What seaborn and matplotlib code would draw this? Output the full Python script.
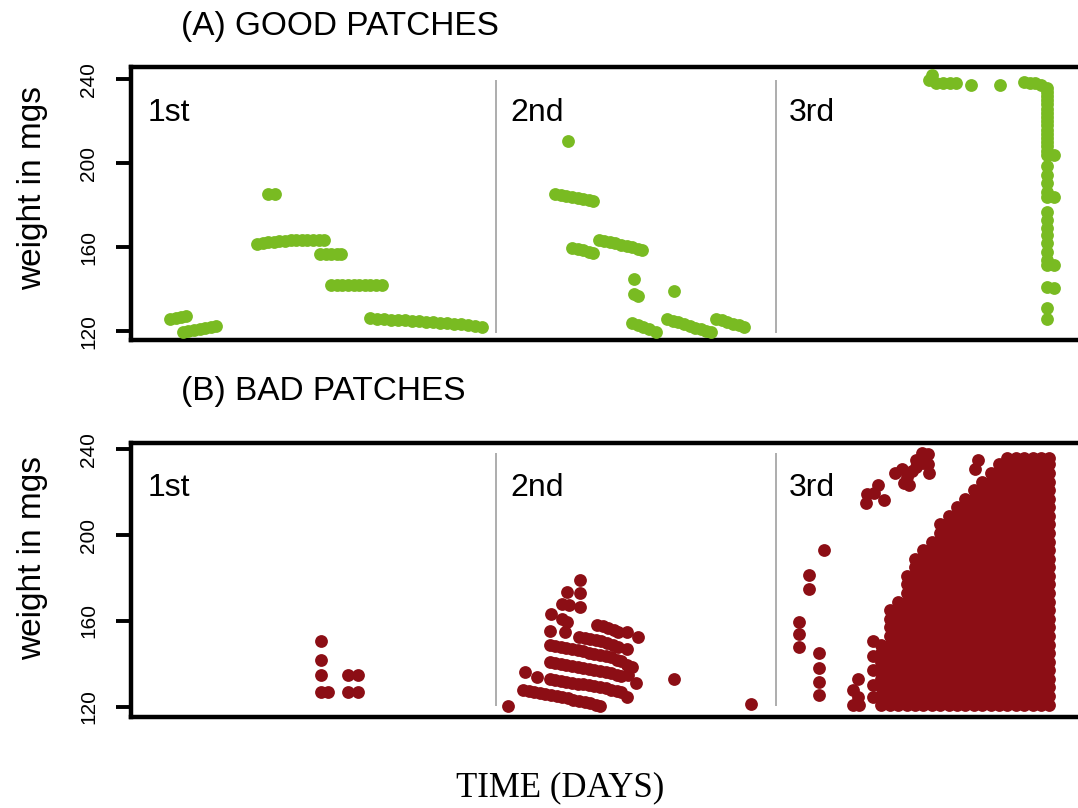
import matplotlib
matplotlib.use("Agg")
import pandas as pd
import matplotlib.pyplot as plt
import seaborn as sns

# ---- data (day, weight in mg) ----
section_names = ["1st", "2nd", "3rd"]
section_dividers = [130.5, 230.5]
weight_ticks = [120, 160, 200, 240]

good_1st = [
    (14, 126), (16, 126.5), (18, 127), (19.5, 127.5),
    (18.5, 119.5), (20.5, 120), (22.5, 120.5), (24.5, 121), (26.5, 121.5), (28.5, 122), (30.5, 122.5),
    (49, 185.5), (51.5, 185.5),
    (45, 161.5), (47, 162), (49, 162.5), (51, 162.5), (53, 163), (55, 163), (57, 163.5), (59, 163.5),
    (61, 163.5), (63, 163.5), (65, 163.5), (67, 163.5), (69, 163.5),
    (67.5, 157), (69.5, 157), (71.5, 157), (73.5, 157), (75, 157),
    (71.5, 142), (73.5, 142), (75.5, 142), (77.5, 142), (79.5, 142), (81.5, 142), (83.5, 142),
    (85.5, 142), (87.5, 142), (89.5, 142),
    (85.5, 126.5), (88, 126), (90.5, 126), (93, 125.5), (95.5, 125.5), (98, 125.5), (100.5, 125),
    (103, 125), (105.5, 124.5), (108, 124.5), (110.5, 124), (113, 124), (115.5, 123.5), (118, 123.5),
    (120.5, 123), (123, 122.5), (125.5, 122),
]
good_2nd = [
    (156, 210.5),
    (151.5, 185.5), (153.5, 185), (155.5, 184.5), (157.5, 184), (159.5, 183.5), (161.5, 183),
    (163.5, 182.5), (165, 182),
    (157.5, 159.5), (159.5, 159), (161.5, 158.5), (163.5, 158), (165, 157.5),
    (167, 163.5), (169, 163), (171, 162.5), (173, 162), (175, 161), (177, 160.5), (179, 160),
    (181, 159), (182.5, 158.5),
    (179.5, 145), (179.5, 138), (181, 137),
    (179, 124), (181, 123), (183, 122), (185, 121), (187.5, 119.5),
    (194, 139),
    (191.5, 126), (193.5, 125), (195.5, 124.5), (197.5, 123.5), (199.5, 122.5), (201.5, 121.5),
    (203.5, 121), (205.5, 120), (207, 119.5),
    (209, 126), (211, 125.5), (213, 124.5), (215, 123.5), (217, 123), (219, 122),
]
good_3rd = [
    (285, 239.5), (286, 242), (287.5, 238), (290, 238), (292.5, 238), (294.5, 238),
    (300, 237.5), (310.5, 237.5),
    (319, 238.5), (321, 238), (323, 238), (325, 237.5),
    (327, 236), (327, 234), (327, 232), (327, 230), (327, 228), (327, 226), (327, 224), (327, 222),
    (327, 220), (327, 218), (327, 216), (327, 214), (327, 212), (327, 210), (327, 208), (327, 206),
    (327, 204), (329.5, 204),
    (327, 198.5), (327, 194.5), (327, 190.5), (327, 186.5), (327, 184), (329.5, 184),
    (327, 177), (327, 173), (327, 169), (327, 166), (327, 162), (327, 158), (327, 154), (327, 151.5),
    (329.5, 151.5),
    (327, 141), (329.5, 140.5),
    (327, 131), (327, 126),
]

bad_1st = [(68, 150.5), (68, 142), (68, 135), (68, 127), (70.5, 127),
           (77.5, 135), (77.5, 127), (81, 135), (81, 127)]
bad_2nd = [
    (134.8, 120.5), (194, 133), (221.3, 121.3),
    (160.4, 179), (155.8, 173.5), (160.4, 173), (153.8, 168), (156.5, 167.5), (160.4, 166.5),
    (150, 163), (153.8, 161), (155.8, 159.5),
    (149.6, 155.5), (155, 155),
    (166.5, 158), (168.5, 157.5), (170.5, 156.5), (172.5, 156), (174, 155), (177, 155), (181, 152.5),
    (160, 152.5), (162, 152), (164, 151.5), (166, 151), (168, 150.5), (170, 149.5), (172, 149),
    (174, 148), (177, 147),
    (149.5, 149), (151.5, 148.5), (153.5, 148), (155.5, 147.5), (157.5, 147), (159.5, 146.5),
    (161.5, 146), (163.5, 145), (165.5, 144.5), (167.5, 144), (169.5, 143.5), (171.5, 143),
    (173.5, 142), (175, 141.5), (177, 139.5), (179, 138.5),
    (149.5, 141), (151.5, 140.5), (153.5, 140), (155.5, 139.5), (157.5, 139), (159.5, 138.5),
    (161.5, 138), (163.5, 137.5), (165.5, 137), (167.5, 136.5), (169.5, 136), (171.5, 135.5),
    (173.5, 135), (175, 134.5), (177.5, 135), (180.5, 131),
    (149.5, 133), (151.5, 132.5), (153.5, 132), (155.5, 131.5), (157.5, 131), (159.5, 130.5),
    (161.5, 130.5), (163.5, 130), (165.5, 129.5), (167.5, 129), (169.5, 128.5), (171.5, 128),
    (173.5, 127.5), (175, 127), (177, 124.5),
    (140.7, 136), (145, 134),
    (140, 128), (142, 127.5), (144, 127), (146, 126.5), (148, 126), (150, 125.5), (152, 125),
    (154, 124.5), (156, 124), (158, 123), (160, 122.5), (162, 122), (164, 121.5), (166, 121),
    (167.5, 120.5),
]
bad_3rd = [
    (247.6, 193), (242.3, 181.5), (242.3, 175), (238.4, 159.5), (238.4, 154), (238.4, 148),
    (245.8, 145), (245.8, 138), (245.8, 131.5), (245.8, 125.5),
    (259.5, 133), (257.7, 128), (259.5, 124.5), (257.7, 121), (260.1, 121),
    (262.5, 215), (263, 219), (265.5, 219.5), (266.7, 223.5), (269, 216.5),
    (273, 229), (275.5, 231), (276, 224.5), (277, 227), (278, 223.5), (279, 230), (280.5, 232),
    (280.5, 235), (282.5, 238.5), (283, 233.5), (284.5, 238), (285, 229), (284.5, 233),
    (302.6, 235), (301.4, 231),
    (265, 150.5), (265, 143.5), (265, 137), (265, 130), (265, 124.5),
]
# the dense block in the 3rd bad patch: columns of points, with the highest weight seen in each
blob_days = [268, 271, 274, 277, 280, 283, 286, 289, 292, 295, 298, 301, 304, 307, 310,
             313, 316, 319, 322, 325, 328]
blob_tops = [149, 165, 169, 181, 189, 193, 197, 205, 209, 213, 217, 221, 225, 229, 233,
             236, 236, 236, 236, 236, 236]
blob_levels = [121, 125, 129, 133, 137, 141, 145, 149, 153, 157, 161, 165, 169, 173, 177,
               181, 185, 189, 193, 197, 201, 205, 209, 213, 217, 221, 225, 229, 233, 236]

GREEN = "#79bb22"
RED = "#8c0e15"

blob = [(d, w) for d, top in zip(blob_days, blob_tops) for w in blob_levels if w <= top]
good = pd.DataFrame(good_1st + good_2nd + good_3rd, columns=["day", "weight"])
bad = pd.DataFrame(bad_1st + bad_2nd + bad_3rd + blob, columns=["day", "weight"])

sns.set_style("white")
plt.rcParams["font.family"] = ["Liberation Sans", "DejaVu Sans"]
plt.rcParams.update({
    "text.color": "black", "axes.labelcolor": "black",
    "xtick.color": "black", "ytick.color": "black",
    "ytick.labelsize": 15, "ytick.left": True, "ytick.direction": "out",
    "ytick.major.size": 10.5, "ytick.major.width": 2.8, "ytick.major.pad": 13,
})

fig = plt.figure(figsize=(10.78, 8.08), dpi=100)
W, H = 1078, 808
ax_top = fig.add_axes([131 / W, 1 - 340 / H, (1090 - 131) / W, (340 - 67.5) / H])
ax_bot = fig.add_axes([131 / W, 1 - 717 / H, (1090 - 131) / W, (717 - 442.5) / H])


def style_panel(ax, ylim, div_lo, div_hi):
    ax.set_xlim(0, 342.5)
    ax.set_ylim(*ylim)
    ax.set_xticks([])
    ax.set_yticks(weight_ticks)
    ax.set_xlabel("")
    ax.set_ylabel("")
    for sp in ax.spines.values():
        sp.set_color("black")
        sp.set_linewidth(3.2)
    ax.spines["right"].set_visible(False)
    ax.tick_params(axis="y", labelsize=15, labelrotation=90)
    for lab in ax.get_yticklabels():
        lab.set_va("center")
    ax.vlines(section_dividers, div_lo, div_hi, color="#a0a0a0", lw=1.2, zorder=1)
    for x, name in zip([6, 135.5, 235], section_names):
        ax.text(x, 0.805, name, transform=ax.get_xaxis_transform(), fontsize=23,
                ha="left", va="baseline", color="black")


sns.scatterplot(data=good, x="day", y="weight", color=GREEN, s=85, linewidth=0,
                ax=ax_top, legend=False, zorder=3)
sns.scatterplot(data=bad, x="day", y="weight", color=RED, s=85, linewidth=0,
                ax=ax_bot, legend=False, zorder=3)

style_panel(ax_top, (115.9, 245.6), 119.3, 239.7)
style_panel(ax_bot, (115.2, 243.2), 120.1, 238.3)

fig.text(181 / W, 1 - 35 / H, "(A) GOOD PATCHES", fontsize=24, ha="left", va="baseline")
fig.text(181 / W, 1 - 400 / H, "(B) BAD PATCHES", fontsize=24, ha="left", va="baseline")
fig.text(33 / W, 1 - 187.5 / H, "weight in mgs", rotation=90, fontsize=24,
         ha="center", va="center")
fig.text(33 / W, 1 - 558 / H, "weight in mgs", rotation=90, fontsize=24,
         ha="center", va="center")
fig.text(560 / W, 1 - 796 / H, "TIME (DAYS)", fontsize=25, ha="center", va="baseline",
         family=["Liberation Serif", "DejaVu Serif"])

fig.savefig("out.png", dpi=100)
